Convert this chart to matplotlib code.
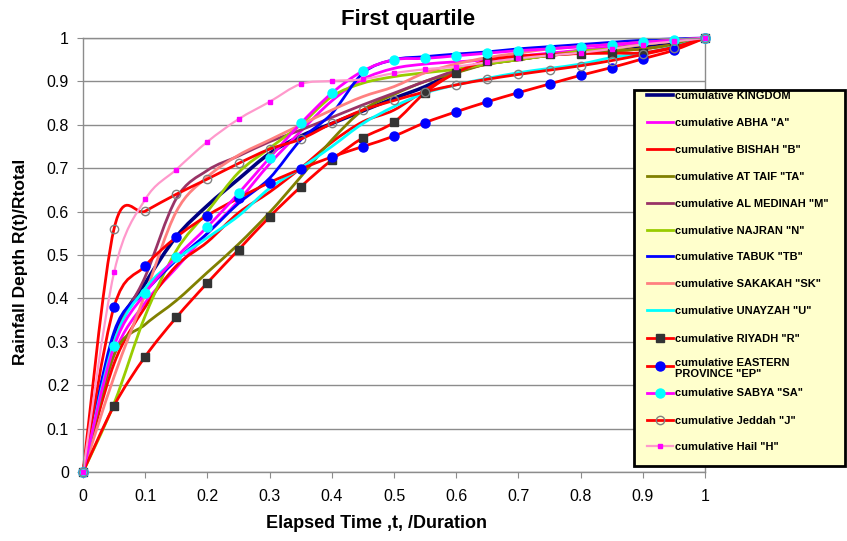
import matplotlib
matplotlib.use("Agg")
import matplotlib.pyplot as plt
from matplotlib.path import Path
from matplotlib.patches import PathPatch, Rectangle
from matplotlib.lines import Line2D
import numpy as np

plt.rcParams['font.family'] = ['Liberation Sans', 'DejaVu Sans']

# elapsed time fraction
t = [0, 0.05, 0.1, 0.15, 0.2, 0.25, 0.3, 0.35, 0.4, 0.45, 0.5,
     0.55, 0.6, 0.65, 0.7, 0.75, 0.8, 0.85, 0.9, 0.95, 1.0]

kingdom = [0, .31, .435, .542, .614, .675, .734, .774, .803, .832, .861,
           .888, .922, .945, .955, .962, .970, .976, .982, .990, 1]
abha = [0, .27, .39, .47, .55, .625, .71, .785, .855, .905, .930,
        .940, .945, .950, .958, .965, .972, .980, .987, .994, 1]
bishah = [0, .25, .38, .475, .53, .597, .645, .70, .76, .807, .834,
          .88, .92, .94, .95, .96, .965, .97, .975, .985, 1]
taif = [0, .27, .34, .395, .46, .525, .598, .68, .765, .834, .87,
        .90, .92, .94, .95, .96, .965, .97, .975, .985, 1]
medinah = [0, .30, .45, .63, .695, .728, .761, .788, .817, .846, .873,
           .90, .925, .94, .95, .96, .967, .975, .985, .993, 1]
najran = [0, .158, .36, .51, .60, .69, .746, .80, .865, .896, .911,
          .92, .928, .94, .95, .96, .97, .975, .985, .993, 1]
tabuk = [0, .323, .415, .488, .55, .619, .677, .765, .826, .919, .95,
         .957, .963, .968, .975, .98, .985, .99, .995, .998, 1]
sakakah = [0, .22, .41, .60, .68, .73, .765, .80, .834, .865, .888,
           .92, .94, .955, .965, .975, .98, .985, .99, .995, 1]
unayzah = [0, .30, .423, .49, .54, .59, .654, .70, .75, .803, .842,
           .873, .892, .907, .92, .93, .94, .955, .965, .98, 1]
riyadh = [0, .153, .266, .356, .436, .512, .588, .657, .719, .770, .806,
          .874, .920, .948, .958, .962, .964, .965, .966, .979, 1]
eastern = [0, .381, .475, .541, .591, .631, .667, .698, .726, .750, .774,
           .805, .830, .853, .874, .894, .914, .932, .952, .972, 1]
sabya = [0, .290, .412, .495, .565, .642, .724, .803, .873, .924, .950,
         .953, .959, .965, .971, .975, .980, .985, .990, .995, 1]
jeddah = [0, .561, .601, .640, .675, .711, .744, .767, .803, .834, .856,
          .876, .892, .905, .916, .926, .936, .948, .962, .978, 1]
hail = [0, .460, .628, .697, .761, .813, .853, .894, .901, .905, .919,
        .928, .934, .944, .953, .960, .966, .975, .985, .992, 1]

labels = ['cumulative KINGDOM', 'cumulative ABHA "A"', 'cumulative BISHAH "B"',
          'cumulative AT TAIF "TA"', 'cumulative AL MEDINAH "M"',
          'cumulative NAJRAN "N"', 'cumulative TABUK "TB"',
          'cumulative SAKAKAH "SK"', 'cumulative UNAYZAH "U"',
          'cumulative RIYADH "R"', 'cumulative EASTERN\nPROVINCE "EP"',
          'cumulative SABYA "SA"', 'cumulative Jeddah "J"', 'cumulative Hail "H"']
series = [kingdom, abha, bishah, taif, medinah, najran, tabuk, sakakah,
          unayzah, riyadh, eastern, sabya, jeddah, hail]

# (line colour, width, marker, marker face, marker edge, marker size)
styles = [
    ('#000080', 2.6, None, None, None, 0),
    ('#FF00FF', 2.0, None, None, None, 0),
    ('#FF0000', 2.0, None, None, None, 0),
    ('#808000', 2.0, None, None, None, 0),
    ('#993366', 2.0, None, None, None, 0),
    ('#99CC00', 2.0, None, None, None, 0),
    ('#0000FF', 2.0, None, None, None, 0),
    ('#FF8080', 2.0, None, None, None, 0),
    ('#00FFFF', 2.0, None, None, None, 0),
    ('#FF0000', 2.0, 's', '#333333', '#333333', 6),
    ('#FF0000', 2.0, 'o', '#0000FF', '#0000FF', 6.5),
    ('#FF00FF', 2.0, 'o', '#00FFFF', '#00FFFF', 6.5),
    ('#FF0000', 2.0, 'o', 'none', '#808080', 6),
    ('#FF99CC', 1.6, 's', '#FF00FF', '#FF00FF', 2.5),
]


def smooth_path(x, y):
    # Excel-style smoothed line: cubic Bezier through every point
    pts = np.column_stack([x, y])
    n = len(pts)
    verts = [pts[0]]
    codes = [Path.MOVETO]
    for i in range(n - 1):
        p0 = pts[max(i - 1, 0)]
        p1 = pts[i]
        p2 = pts[i + 1]
        p3 = pts[min(i + 2, n - 1)]
        verts += [p1 + (p2 - p0) / 6, p2 - (p3 - p1) / 6, p2]
        codes += [Path.CURVE4] * 3
    return Path(verts, codes)


fig = plt.figure(figsize=(8.47, 5.41), dpi=100)
W, H = 847.0, 541.0
ax = fig.add_axes([83 / W, 1 - 472 / H, 622 / W, 434 / H])

for s, (col, lw, mk, mfc, mec, ms) in zip(series, styles):
    ax.add_patch(PathPatch(smooth_path(t, s), fill=False, edgecolor=col,
                           lw=lw, joinstyle='round', capstyle='round',
                           clip_on=False))
    if mk:
        ax.plot(t, s, ls='none', marker=mk, mfc=mfc, mec=mec, ms=ms,
                mew=1.0, clip_on=False, zorder=3)

ax.set_xlim(0, 1)
ax.set_ylim(0, 1)
ax.set_xticks(np.linspace(0, 1, 11))
ax.set_yticks(np.linspace(0, 1, 11))
ax.set_xticklabels(['0', '0.1', '0.2', '0.3', '0.4', '0.5', '0.6', '0.7',
                    '0.8', '0.9', '1'])
ax.set_yticklabels(['0', '0.1', '0.2', '0.3', '0.4', '0.5', '0.6', '0.7',
                    '0.8', '0.9', '1'])
ax.grid(axis='y', color='#8c8c8c', lw=1.0)
ax.set_axisbelow(True)
for sp in ax.spines.values():
    sp.set_color('#8c8c8c')
    sp.set_linewidth(1.0)
ax.tick_params(colors='#8c8c8c', labelcolor='black', labelsize=11.5,
               length=4, direction='out')
ax.tick_params(axis='x', pad=8)
ax.tick_params(axis='y', pad=6)

fig.text(408 / W, 1 - 20 / H, 'First quartile', ha='center', va='center',
         fontsize=16, fontweight='bold')
fig.text(376 / W, 1 - 523 / H, 'Elapsed Time ,t, /Duration', ha='center',
         va='center', fontsize=13, fontweight='bold')
fig.text(21 / W, 1 - 262 / H, 'Rainfall Depth R(t)/Rtotal', ha='center',
         va='center', rotation=90, fontsize=12.5, fontweight='bold')

# legend box drawn by hand to follow the original spacing
fig.add_artist(Rectangle((634 / W, 1 - 466 / H), 211 / W, 376 / H,
                         transform=fig.transFigure, facecolor='#FFFFCC',
                         edgecolor='black', lw=2, zorder=5))
ys = [95, 122, 149, 176, 203, 230, 256, 283, 310, 337.5, 365.5, 392.5, 420, 446]
for yy, lab, (col, lw, mk, mfc, mec, ms) in zip(ys, labels, styles):
    yf = 1 - yy / H
    fig.add_artist(Line2D([647 / W, 673 / W], [yf, yf], color=col, lw=lw,
                          transform=fig.transFigure, zorder=6))
    if mk:
        fig.add_artist(Line2D([660 / W], [yf], ls='none', marker=mk, mfc=mfc,
                              mec=mec, ms=ms, mew=1.0,
                              transform=fig.transFigure, zorder=7))
    if '\n' in lab:
        fig.text(675 / W, yf + 7 / H, lab, ha='left', va='top', fontsize=8,
                 fontweight='bold', linespacing=1.1, zorder=7)
    else:
        fig.text(675 / W, yf, lab, ha='left', va='center_baseline', fontsize=8,
                 fontweight='bold', zorder=7)

fig.savefig('out.png', dpi=100)
